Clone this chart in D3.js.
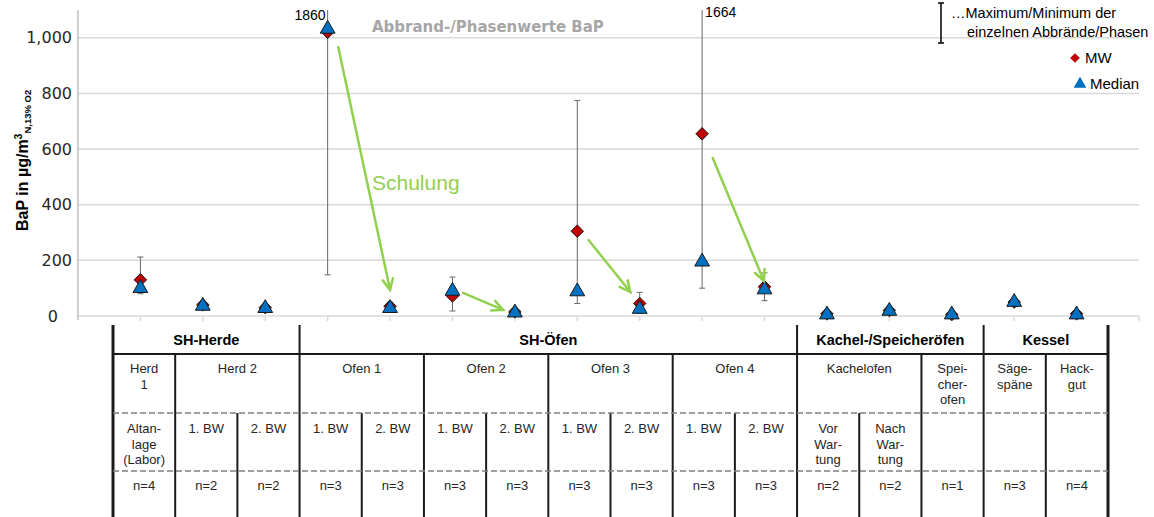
<!DOCTYPE html>
<html>
<head>
<meta charset="utf-8">
<script src="https://cdn.jsdelivr.net/npm/d3@7"></script>
<style>
  body { margin: 0; background: #fff; }
  svg { display: block; }
</style>
</head>
<body>
<div id="chart"></div>
<script>
const width = 1154;
const height = 517;

// categories (one per measuring series)
const categories = [
  "Herd 1", "Herd 2 / 1. BW", "Herd 2 / 2. BW",
  "Ofen 1 / 1. BW", "Ofen 1 / 2. BW", "Ofen 2 / 1. BW", "Ofen 2 / 2. BW",
  "Ofen 3 / 1. BW", "Ofen 3 / 2. BW", "Ofen 4 / 1. BW", "Ofen 4 / 2. BW",
  "Kachelofen vor", "Kachelofen nach", "Speicherofen", "Sägespäne", "Hackgut"
];
const mwValues     = [130, 40, 30, 1020, 35, 72, 15, 305, 45, 655, 105, 8, 20, 5, 50, 8];
const medianValues = [100, 36, 28, 1032, 28, 90, 12, 88, 25, 195, 95, 5, 18, 5, 50, 5];
const minValues    = [80, 32, 24, 148, 20, 18, 8, 45, 10, 100, 55, 3, 14, 5, 45, 3];
const maxValues    = [212, 48, 34, 1860, 50, 140, 20, 775, 85, 1664, 155, 12, 25, 5, 56, 12];
const nValues      = [4, 2, 2, 3, 3, 3, 3, 3, 3, 3, 3, 2, 2, 1, 3, 4];

const yTicks = [0, 200, 400, 600, 800, 1000];

// table below the chart
const groupNames = ["SH-Herde", "SH-Öfen", "Kachel-/Speicheröfen", "Kessel"];
const groupSpans = [3, 8, 3, 2];
const deviceNames = [["Herd", "1"], ["Herd 2"], ["Ofen 1"], ["Ofen 2"], ["Ofen 3"], ["Ofen 4"],
  ["Kachelofen"], ["Spei-", "cher-", "ofen"], ["Säge-", "späne"], ["Hack-", "gut"]];
const deviceSpans = [1, 2, 2, 2, 2, 2, 2, 1, 1, 1];
const subLabels = [["Altan-", "lage", "(Labor)"], ["1. BW"], ["2. BW"], ["1. BW"], ["2. BW"],
  ["1. BW"], ["2. BW"], ["1. BW"], ["2. BW"], ["1. BW"], ["2. BW"],
  ["Vor", "War-", "tung"], ["Nach", "War-", "tung"], [], [], []];

// "Schulung" arrows: [category index, value] -> [category index, value]
const arrows = [
  { from: [3.17, 967], to: [4.0, 94] },
  { from: [5.17, 83], to: [5.81, 22] },
  { from: [7.18, 273], to: [7.85, 86] },
  { from: [9.17, 568], to: [9.99, 126] }
];

const svg = d3.select("#chart").append("svg")
  .attr("width", width)
  .attr("height", height);

const plot = { left: 78, right: 1139, top: 10, bottom: 316 };

const x = d3.scalePoint()
  .domain(categories)
  .range([plot.left, plot.right])
  .padding(1);

const xIdx = d3.scaleLinear()
  .domain([0, categories.length - 1])
  .range([x(categories[0]), x(categories[categories.length - 1])]);

const y = d3.scaleLinear()
  .domain([0, 1100])
  .range([plot.bottom, plot.top]);

// gridlines
svg.append("g")
  .selectAll("line")
  .data(yTicks)
  .join("line")
  .attr("x1", plot.left)
  .attr("x2", plot.right)
  .attr("y1", d => y(d))
  .attr("y2", d => y(d))
  .attr("stroke", "#d9d9d9")
  .attr("stroke-width", 1.5);

// y axis
const yAxis = svg.append("g")
  .attr("transform", `translate(${plot.left},0)`)
  .call(d3.axisLeft(y).tickValues(yTicks).tickSize(0).tickPadding(6).tickFormat(d3.format(",")));
yAxis.select(".domain").remove();
yAxis.selectAll("text")
  .attr("font-family", "DejaVu Sans")
  .attr("font-size", 16)
  .attr("fill", "#262626")
  .attr("dx", d => d === 0 ? -14 : 0);

svg.append("line")
  .attr("x1", plot.left).attr("x2", plot.left)
  .attr("y1", plot.top).attr("y2", plot.bottom + 4)
  .attr("stroke", "#bfbfbf")
  .attr("stroke-width", 1.5);

// x tick marks
svg.append("g")
  .selectAll("line")
  .data(categories.map(c => x(c)).concat([plot.right]))
  .join("line")
  .attr("x1", d => d).attr("x2", d => d)
  .attr("y1", plot.bottom).attr("y2", plot.bottom + 5)
  .attr("stroke", "#d9d9d9")
  .attr("stroke-width", 1.5);

// y axis title
const yTitle = svg.append("text")
  .attr("transform", "translate(28,231) rotate(-90)")
  .attr("font-family", "Liberation Sans, Arial, sans-serif")
  .attr("font-weight", "bold")
  .attr("font-size", 16)
  .attr("fill", "#000");
yTitle.append("tspan").text("BaP in µg/m");
yTitle.append("tspan").attr("font-size", 10.5).attr("dy", -6).text("3");
yTitle.append("tspan").attr("font-size", 9.5).attr("dy", 9).text("N,13% O2");

// chart title
svg.append("text")
  .attr("x", 372)
  .attr("y", 32)
  .attr("font-family", "DejaVu Sans")
  .attr("font-weight", "bold")
  .attr("font-size", 15)
  .attr("fill", "#a6a6a6")
  .text("Abbrand-/Phasenwerte BaP");

// error bars (clipped at the plot top)
svg.append("clipPath").attr("id", "clip")
  .append("rect")
  .attr("x", plot.left).attr("y", plot.top)
  .attr("width", plot.right - plot.left).attr("height", plot.bottom - plot.top + 10);

const err = svg.append("g").attr("clip-path", "url(#clip)")
  .selectAll("g")
  .data(categories)
  .join("g");
err.append("line")
  .attr("x1", d => x(d)).attr("x2", d => x(d))
  .attr("y1", (d, i) => y(minValues[i]))
  .attr("y2", (d, i) => y(maxValues[i]))
  .attr("stroke", "#666")
  .attr("stroke-width", 1);
err.selectAll(".cap")
  .data((d, i) => [minValues[i], maxValues[i]].map(v => ({ c: d, v })))
  .join("line")
  .attr("class", "cap")
  .attr("x1", d => x(d.c) - 3).attr("x2", d => x(d.c) + 3)
  .attr("y1", d => y(d.v)).attr("y2", d => y(d.v))
  .attr("stroke", "#666")
  .attr("stroke-width", 1);

// labels for maxima outside the axis range
const overflow = categories.map((c, i) => ({ c, v: maxValues[i], i })).filter(d => d.v > 1100);
svg.append("g")
  .selectAll("text")
  .data(overflow)
  .join("text")
  .attr("x", (d, k) => k === 0 ? x(d.c) - 2 : x(d.c) + 3)
  .attr("y", (d, k) => k === 0 ? 20 : 17)
  .attr("text-anchor", (d, k) => k === 0 ? "end" : "start")
  .attr("font-family", "Liberation Sans, Arial, sans-serif")
  .attr("font-size", 14)
  .attr("fill", "#000")
  .text(d => d.v);

// MW diamonds
const diamond = d3.symbol().type(d3.symbolDiamond2).size(100);
svg.append("g")
  .selectAll("path")
  .data(categories)
  .join("path")
  .attr("d", diamond)
  .attr("transform", (d, i) => `translate(${x(d)},${y(mwValues[i])})`)
  .attr("fill", "#c00000")
  .attr("stroke", "#1a1a1a")
  .attr("stroke-width", 1);

// median triangles
const tri = d3.symbol().type(d3.symbolTriangle).size(95);
svg.append("g")
  .selectAll("path")
  .data(categories)
  .join("path")
  .attr("d", tri)
  .attr("transform", (d, i) => `translate(${x(d)},${y(medianValues[i])})`)
  .attr("fill", "#0070c0")
  .attr("stroke", "#1a1a1a")
  .attr("stroke-width", 1);

// "Schulung" arrows
const green = "#92d050";
const arrowG = svg.append("g")
  .attr("stroke", green)
  .attr("stroke-width", 2.5)
  .attr("fill", "none")
  .attr("stroke-linecap", "round");
arrows.forEach(a => {
  const x1 = xIdx(a.from[0]), y1 = y(a.from[1]);
  const x2 = xIdx(a.to[0]), y2 = y(a.to[1]);
  const ang = Math.atan2(y2 - y1, x2 - x1);
  const len = 12, spread = Math.PI / 7;
  const hx1 = x2 - len * Math.cos(ang - spread), hy1 = y2 - len * Math.sin(ang - spread);
  const hx2 = x2 - len * Math.cos(ang + spread), hy2 = y2 - len * Math.sin(ang + spread);
  arrowG.append("path").attr("d", `M${x1},${y1}L${x2},${y2}`);
  arrowG.append("path").attr("d", `M${hx1},${hy1}L${x2},${y2}L${hx2},${hy2}`);
});

svg.append("text")
  .attr("x", 372)
  .attr("y", 190)
  .attr("font-family", "Liberation Sans, Arial, sans-serif")
  .attr("font-size", 21)
  .attr("fill", green)
  .text("Schulung");

// legend
const lg = svg.append("g");
lg.append("line").attr("x1", 941).attr("x2", 941).attr("y1", 3).attr("y2", 43)
  .attr("stroke", "#000").attr("stroke-width", 1.5);
[3, 43].forEach(v => lg.append("line").attr("x1", 938).attr("x2", 944).attr("y1", v).attr("y2", v)
  .attr("stroke", "#000").attr("stroke-width", 1.5));
lg.append("text").attr("x", 951).attr("y", 18)
  .attr("font-family", "Liberation Sans, Arial, sans-serif").attr("font-size", 14.5)
  .text("…Maximum/Minimum der");
lg.append("text").attr("x", 967).attr("y", 37)
  .attr("font-family", "Liberation Sans, Arial, sans-serif").attr("font-size", 14.5)
  .text("einzelnen Abbrände/Phasen");
lg.append("path").attr("d", d3.symbol().type(d3.symbolDiamond2).size(60))
  .attr("transform", "translate(1075,58)").attr("fill", "#c00000");
lg.append("text").attr("x", 1085).attr("y", 63)
  .attr("font-family", "Liberation Sans, Arial, sans-serif").attr("font-size", 15)
  .text("MW");
lg.append("path").attr("d", d3.symbol().type(d3.symbolTriangle).size(70))
  .attr("transform", "translate(1080,84)").attr("fill", "#0070c0");
lg.append("text").attr("x", 1090).attr("y", 89)
  .attr("font-family", "Liberation Sans, Arial, sans-serif").attr("font-size", 15)
  .text("Median");

// ---- table ----
const col = d3.scaleBand()
  .domain(categories)
  .range([113, 1108]);
const colX = i => col.range()[0] + i * col.step();

const row = { top: 325, head: 354, dash1: 413, dash2: 471, bottom: 517 };
const tbl = svg.append("g")
  .attr("font-family", "Liberation Sans, Arial, sans-serif")
  .attr("fill", "#262626");

// group boundaries and header
let start = 0;
const groupBounds = [];
groupNames.forEach((g, k) => {
  groupBounds.push(start);
  tbl.append("text")
    .attr("x", (colX(start) + colX(start + groupSpans[k])) / 2)
    .attr("y", 345)
    .attr("text-anchor", "middle")
    .attr("font-weight", "bold")
    .attr("font-size", 14.5)
    .attr("fill", "#000")
    .text(g);
  start += groupSpans[k];
});
groupBounds.push(start);

// device boundaries and names
start = 0;
const deviceBounds = [];
deviceNames.forEach((lines, k) => {
  deviceBounds.push(start);
  lines.forEach((t, j) => {
    tbl.append("text")
      .attr("x", (colX(start) + colX(start + deviceSpans[k])) / 2)
      .attr("y", 373 + j * 15.5)
      .attr("text-anchor", "middle")
      .attr("font-size", 13)
      .text(t);
  });
  start += deviceSpans[k];
});

// sub labels and n
categories.forEach((c, i) => {
  const cx = col(c) + col.bandwidth() / 2;
  subLabels[i].forEach((t, j) => {
    tbl.append("text").attr("x", cx).attr("y", 433 + j * 15.5)
      .attr("text-anchor", "middle").attr("font-size", 13).text(t);
  });
  tbl.append("text").attr("x", cx).attr("y", 490)
    .attr("text-anchor", "middle").attr("font-size", 13).text("n=" + nValues[i]);
});

// lines
const lineG = svg.append("g").attr("stroke", "#1a1a1a");
d3.range(categories.length + 1).forEach(i => {
  let y1 = row.dash1;
  let w = 2;
  if (groupBounds.includes(i)) { y1 = row.top; }
  else if (deviceBounds.includes(i)) { y1 = row.head; }
  if (i === 0 || i === categories.length) w = 3;
  lineG.append("line")
    .attr("x1", colX(i)).attr("x2", colX(i))
    .attr("y1", y1).attr("y2", row.bottom)
    .attr("stroke-width", w);
});
lineG.append("line")
  .attr("x1", colX(0)).attr("x2", colX(categories.length))
  .attr("y1", row.head).attr("y2", row.head)
  .attr("stroke-width", 2);
[row.dash1, row.dash2].forEach(v => {
  svg.append("line")
    .attr("x1", colX(0)).attr("x2", colX(categories.length))
    .attr("y1", v).attr("y2", v)
    .attr("stroke", "#808080")
    .attr("stroke-width", 1.5)
    .attr("stroke-dasharray", "6,3");
});
</script>
</body>
</html>
